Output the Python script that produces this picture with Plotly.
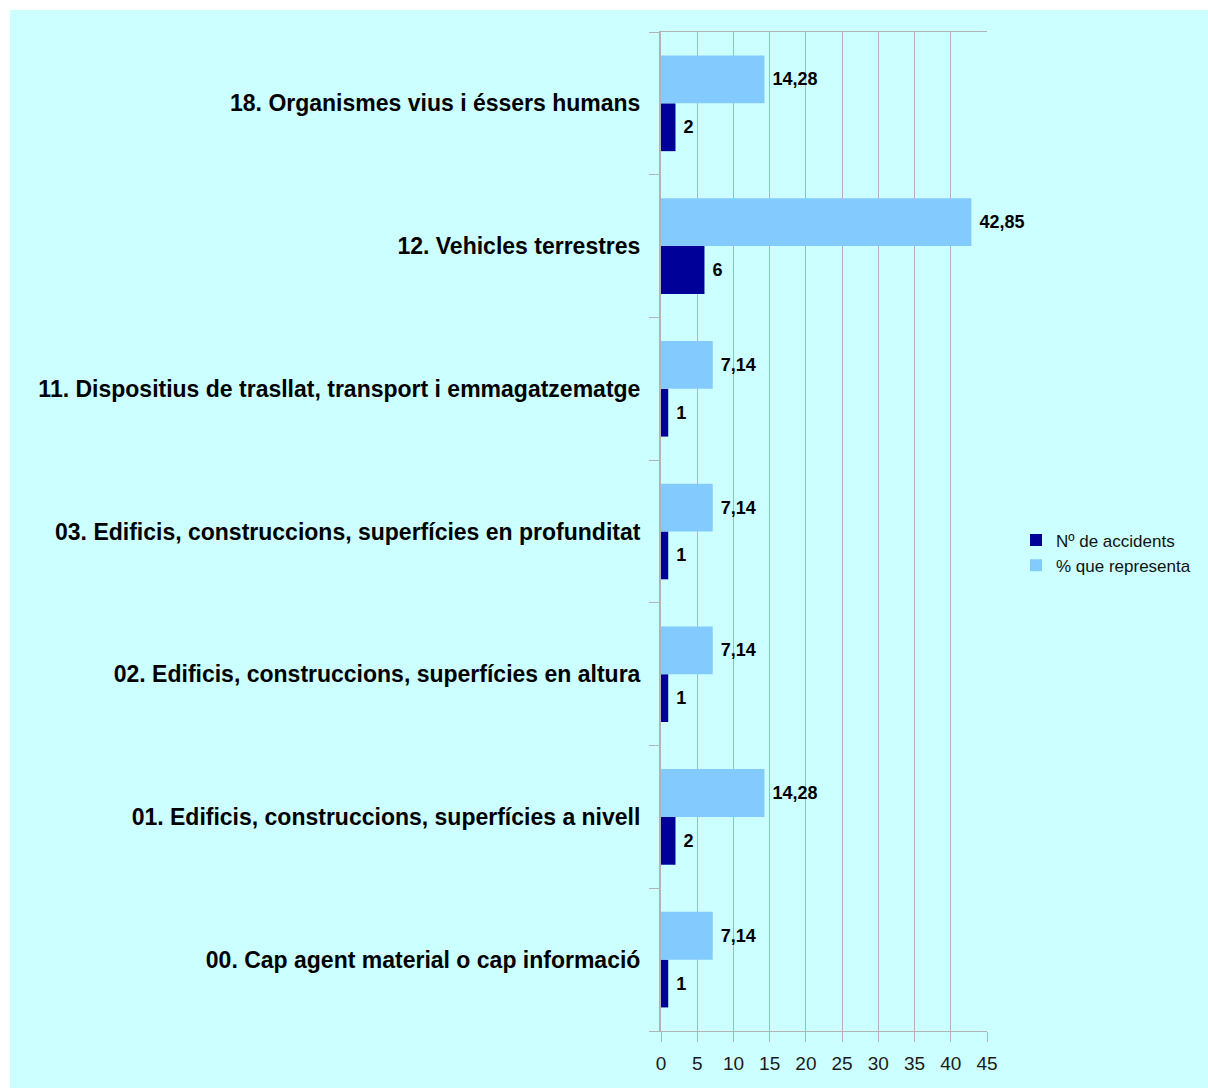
import plotly.graph_objects as go

categories = [
    "00. Cap agent material o cap informació",
    "01. Edificis, construccions, superfícies a nivell",
    "02. Edificis, construccions, superfícies en altura",
    "03. Edificis, construccions, superfícies en profunditat",
    "11. Dispositius de trasllat, transport i emmagatzematge",
    "12. Vehicles terrestres",
    "18. Organismes vius i éssers humans",
]
accidents = [1, 2, 1, 1, 1, 6, 2]
percent = [7.14, 14.28, 7.14, 7.14, 7.14, 42.85, 14.28]
series_names = ["Nº de accidents", "% que representa"]
x_ticks = [0, 5, 10, 15, 20, 25, 30, 35, 40, 45]


def fmt(v):
    if float(v).is_integer():
        return str(int(v))
    return f"{v:.2f}".replace(".", ",")


W, H = 1208, 1088
L, R, T, B = 661, 987, 32, 1031
pw, ph = R - L, B - T

label_font = dict(family="Liberation Sans", size=18, color="black", weight="bold")

fig = go.Figure()
fig.add_trace(go.Bar(
    y=categories, x=accidents, orientation="h", name=series_names[0],
    marker=dict(color="#000099", line=dict(width=0)),
    text=[" " + fmt(v) for v in accidents], textposition="outside",
    textfont=label_font, cliponaxis=False,
))
fig.add_trace(go.Bar(
    y=categories, x=percent, orientation="h", name=series_names[1],
    marker=dict(color="#83caff", line=dict(width=0)),
    text=[" " + fmt(v) for v in percent], textposition="outside",
    textfont=label_font, cliponaxis=False,
))

fig.update_layout(
    width=W, height=H,
    margin=dict(l=L, r=W - R, t=T, b=H - B, pad=0),
    paper_bgcolor="#ccffff", plot_bgcolor="#ccffff",
    barmode="group", bargap=0.33, bargroupgap=0,
    showlegend=True,
    legend=dict(
        x=(1016 - L) / pw, y=(B - 553) / ph, xanchor="left", yanchor="middle",
        traceorder="normal", bgcolor="rgba(0,0,0,0)",
        font=dict(family="Liberation Sans", size=17, color="#111111"),
        itemwidth=30, tracegroupgap=0,
    ),
    shapes=[
        dict(type="rect", xref="paper", yref="paper",
             x0=(0 - L) / pw, x1=(W - L) / pw, y0=(B - 10) / ph, y1=(B - 0) / ph,
             fillcolor="white", line=dict(width=0), layer="above"),
        dict(type="rect", xref="paper", yref="paper",
             x0=(0 - L) / pw, x1=(10 - L) / pw, y0=(B - H) / ph, y1=(B - 0) / ph,
             fillcolor="white", line=dict(width=0), layer="above"),
    ],
)

fig.update_xaxes(
    range=[0, 45], tickvals=x_ticks, ticktext=[str(t) for t in x_ticks],
    showgrid=True, gridcolor="#b3b3b3", gridwidth=1,
    showline=True, linecolor="#b3b3b3", linewidth=1, mirror=True,
    ticks="outside", ticklen=10, tickcolor="#b3b3b3", tickwidth=1,
    tickfont=dict(family="Liberation Sans", size=19, color="#1a1a1a"),
    ticklabelstandoff=5,
    zeroline=False, fixedrange=True,
)
fig.update_yaxes(
    type="category", categoryorder="array", categoryarray=categories,
    tickson="boundaries", ticks="outside", ticklen=10, tickcolor="#b3b3b3", tickwidth=1,
    showline=True, linecolor="#b3b3b3", linewidth=2, mirror=False,
    showgrid=False,
    tickfont=dict(family="Liberation Sans", size=23, color="black", weight="bold"),
    ticklabelstandoff=14,
    fixedrange=True,
)

fig.write_html(
    "out.html",
    config={"displayModeBar": False},
    post_script="document.body.style.margin='0';document.body.style.padding='0';"
                "document.body.style.background='white';"
                "document.documentElement.style.overflow='hidden';",
)
